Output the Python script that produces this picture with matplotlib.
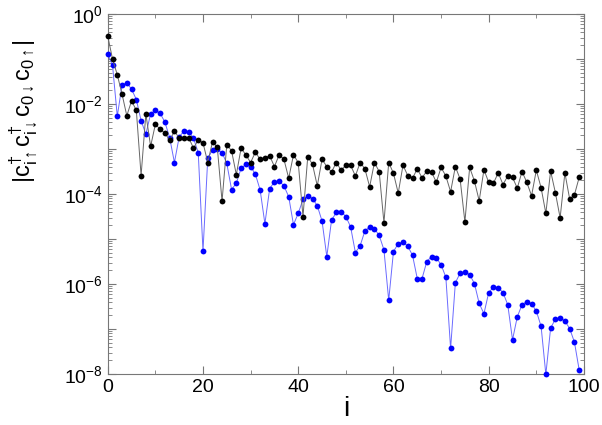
import matplotlib
matplotlib.use('Agg')
import matplotlib.pyplot as plt
import numpy as np

plt.rcParams['font.family'] = ['Liberation Sans', 'DejaVu Sans']
plt.rcParams['mathtext.fontset'] = 'custom'
plt.rcParams['mathtext.rm'] = 'Liberation Sans'
plt.rcParams['mathtext.it'] = 'Liberation Sans'

# site index
i_vals = np.arange(100)

# log10 of |c+ c+ c c|, black series
log_black = [-0.49, -1.00, -1.35, -1.78, -2.26, -1.93, -2.14, -3.59, -2.22, -2.94,
             -2.45, -2.56, -2.65, -2.80, -2.61, -2.75, -2.75, -2.75, -2.98, -2.80,
             -2.86, -3.30, -2.84, -2.96, -4.16, -2.90, -3.04, -3.57, -2.98, -3.13,
             -3.30, -3.07, -3.23, -3.19, -3.15, -3.39, -3.13, -3.23, -3.65, -3.13,
             -3.30, -4.50, -3.17, -3.34, -3.82, -3.23, -3.39, -3.51, -3.30, -3.47,
             -3.36, -3.36, -3.60, -3.30, -3.44, -3.84, -3.30, -3.50, -4.64, -3.30,
             -3.54, -3.98, -3.36, -3.59, -3.65, -3.44, -3.64, -3.49, -3.51, -3.74,
             -3.41, -3.60, -3.95, -3.39, -3.67, -4.62, -3.41, -3.71, -4.15, -3.46,
             -3.74, -3.76, -3.53, -3.79, -3.60, -3.63, -3.87, -3.50, -3.74, -4.04,
             -3.47, -3.86, -4.43, -3.49, -3.97, -4.53, -3.53, -4.11, -4.02, -3.63]

# blue series
log_blue = [-0.89, -1.14, -2.27, -1.58, -1.53, -1.67, -1.90, -2.37, -2.67, -2.22,
            -2.14, -2.21, -2.40, -2.75, -3.30, -2.73, -2.60, -2.62, -2.76, -3.08,
            -5.27, -3.21, -3.02, -3.01, -3.08, -3.32, -3.90, -3.76, -3.43, -3.34,
            -3.39, -3.56, -3.91, -4.66, -3.88, -3.73, -3.71, -3.82, -4.06, -4.68,
            -4.43, -4.12, -4.04, -4.10, -4.26, -4.60, -5.39, -4.58, -4.41, -4.39,
            -4.50, -4.73, -5.30, -5.15, -4.82, -4.73, -4.77, -4.92, -5.24, -6.36,
            -5.28, -5.10, -5.07, -5.16, -5.36, -5.88, -5.88, -5.50, -5.39, -5.42,
            -5.57, -5.85, -7.43, -5.97, -5.76, -5.73, -5.79, -5.99, -6.43, -6.66,
            -6.19, -6.07, -6.08, -6.19, -6.46, -7.24, -6.73, -6.46, -6.39, -6.44,
            -6.60, -6.94, -8.01, -6.98, -6.78, -6.75, -6.82, -6.99, -7.29, -7.91]

y_black = 10.0 ** np.array(log_black)
y_blue = 10.0 ** np.array(log_blue)

fig = plt.figure(figsize=(6.02, 4.25), dpi=100)
ax = fig.add_axes([0.179, 0.12, 0.791, 0.847])

ax.plot(i_vals, y_blue, '-', color='#6a6aff', lw=0.7, zorder=2)
ax.plot(i_vals, y_blue, 'o', color='#0000ff', ms=4.2, mec='none', zorder=3, clip_on=False)
ax.plot(i_vals, y_black, '-', color='#666666', lw=0.7, zorder=4)
ax.plot(i_vals, y_black, 'o', color='black', ms=4.2, mec='none', zorder=5, clip_on=False)

ax.set_yscale('log')
ax.set_xlim(0, 100)
ax.set_ylim(1e-8, 1)

ax.set_xticks([0, 20, 40, 60, 80, 100])
ax.set_xticks([10, 30, 50, 70, 90], minor=True)
ax.set_yticks([10.0 ** k for k in range(-8, 1)])
ax.set_yticklabels(['$10^{%d}$' % k if k % 2 == 0 else '' for k in range(-8, 1)])
ax.yaxis.set_minor_locator(matplotlib.ticker.LogLocator(base=10, subs=np.arange(2, 10), numticks=20))
ax.yaxis.set_minor_formatter(matplotlib.ticker.NullFormatter())

ax.tick_params(which='both', direction='in', top=True, right=True, color='#777777', labelsize=14)
ax.tick_params(which='major', length=6, width=0.8)
ax.tick_params(which='minor', length=3, width=0.6)
for s in ax.spines.values():
    s.set_color('#777777')
    s.set_linewidth(0.8)

ax.set_xlabel('i', fontsize=20, labelpad=0)
ax.set_ylabel(r'$|\mathrm{c}^{\dagger}_{i\uparrow}\mathrm{c}^{\dagger}_{i\downarrow}\mathrm{c}_{0\downarrow}\mathrm{c}_{0\uparrow}|$',
              fontsize=17)
ax.yaxis.set_label_coords(-0.145, 0.73)

fig.savefig('out.png', dpi=100)
